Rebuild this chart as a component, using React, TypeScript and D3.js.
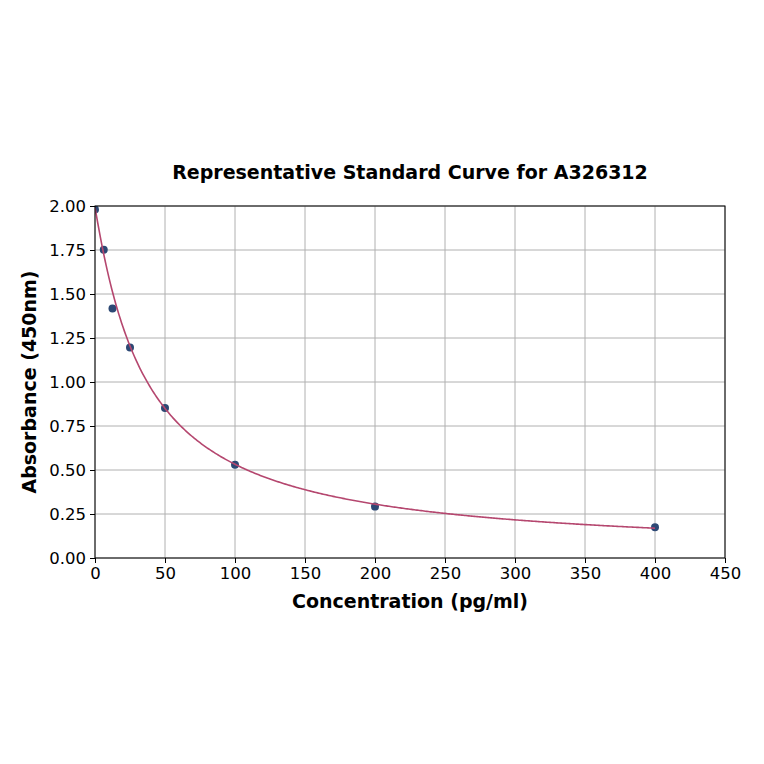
import * as d3 from "d3";
import { useRef, useEffect } from "react";

const width = 764;
const height = 764;
const marginTop = 206;
const marginRight = 39;
const marginBottom = 206;
const marginLeft = 95;

// standards (pg/ml) and measured absorbance
const concentrations = [0, 6.25, 12.5, 25, 50, 100, 200, 400];
const absorbances = [1.98, 1.752, 1.418, 1.196, 0.852, 0.53, 0.292, 0.175];

// 4PL fit: [top, slope, ec50, bottom]
const fitParams = [1.99, 1.05, 36.96, 0.02];

const xTicks = [0, 50, 100, 150, 200, 250, 300, 350, 400, 450];
const yTicks = [0, 0.25, 0.5, 0.75, 1.0, 1.25, 1.5, 1.75, 2.0];

const fontFamily = "'DejaVu Sans', sans-serif";

const fourPL = (x: number) => {
  const [a, b, c, d] = fitParams;
  return d + (a - d) / (1 + Math.pow(x / c, b));
};

const App = () => {
  const gx = useRef<SVGGElement>(null);
  const gy = useRef<SVGGElement>(null);

  const x = d3
    .scaleLinear()
    .domain([0, 450])
    .range([marginLeft, width - marginRight]);

  const y = d3
    .scaleLinear()
    .domain([0, 2])
    .range([height - marginBottom, marginTop]);

  useEffect(() => {
    if (gx.current) {
      const g = d3.select(gx.current);
      g.call(
        d3
          .axisBottom(x)
          .tickValues(xTicks)
          .tickFormat(d3.format("d"))
          .tickSizeOuter(0)
          .tickSize(5)
          .tickPadding(4)
      );
      g.select(".domain").remove();
      g.selectAll("text")
        .attr("font-size", 16.5)
        .attr("font-family", fontFamily)
        .attr("fill", "#000");
      g.selectAll(".tick line").attr("stroke", "#000");
    }
    if (gy.current) {
      const g = d3.select(gy.current);
      g.call(
        d3
          .axisLeft(y)
          .tickValues(yTicks)
          .tickFormat(d3.format(".2f"))
          .tickSizeOuter(0)
          .tickSize(5)
          .tickPadding(4)
      );
      g.select(".domain").remove();
      g.selectAll("text")
        .attr("font-size", 16.5)
        .attr("font-family", fontFamily)
        .attr("fill", "#000");
      g.selectAll(".tick line").attr("stroke", "#000");
    }
    return () => {
      if (gx.current) d3.select(gx.current).selectAll("*").remove();
      if (gy.current) d3.select(gy.current).selectAll("*").remove();
    };
  }, []);

  const curveX = d3.range(0, 400.5, 1);
  const lineBuilder = d3
    .line<number>()
    .x((d) => x(d))
    .y((d) => y(fourPL(d)));

  const plotW = width - marginLeft - marginRight;
  const plotH = height - marginTop - marginBottom;

  return (
    <svg
      width={width}
      height={height}
      viewBox={`0 0 ${width} ${height}`}
      style={{ position: "absolute", left: 0, top: 0, background: "#fff" }}
    >
      <defs>
        <clipPath id="plot-clip">
          <rect x={marginLeft} y={marginTop} width={plotW} height={plotH} />
        </clipPath>
      </defs>

      {xTicks.map((t) => (
        <line
          key={`gx${t}`}
          x1={x(t)}
          x2={x(t)}
          y1={marginTop}
          y2={height - marginBottom}
          stroke="#b0b0b0"
          strokeWidth={1}
        />
      ))}
      {yTicks.map((t) => (
        <line
          key={`gy${t}`}
          x1={marginLeft}
          x2={width - marginRight}
          y1={y(t)}
          y2={y(t)}
          stroke="#b0b0b0"
          strokeWidth={1}
        />
      ))}

      <g clipPath="url(#plot-clip)">
        {concentrations.map((c, i) => (
          <circle
            key={i}
            cx={x(c)}
            cy={y(absorbances[i])}
            r={4}
            fill="#2c4874"
          />
        ))}
        <path
          d={lineBuilder(curveX) as string}
          fill="none"
          stroke="#b5476f"
          strokeWidth={1.6}
        />
      </g>

      <rect
        x={marginLeft}
        y={marginTop}
        width={plotW}
        height={plotH}
        fill="none"
        stroke="#000"
        strokeWidth={1}
      />

      <g ref={gx} transform={`translate(0, ${height - marginBottom})`} />
      <g ref={gy} transform={`translate(${marginLeft}, 0)`} />

      <text
        x={x(225)}
        y={179}
        textAnchor="middle"
        fontFamily={fontFamily}
        fontWeight="bold"
        fontSize={19}
      >
        Representative Standard Curve for A326312
      </text>
      <text
        x={x(225)}
        y={608}
        textAnchor="middle"
        fontFamily={fontFamily}
        fontWeight="bold"
        fontSize={19}
      >
        Concentration (pg/ml)
      </text>
      <text
        transform={`translate(36, ${marginTop + plotH / 2}) rotate(-90)`}
        textAnchor="middle"
        fontFamily={fontFamily}
        fontWeight="bold"
        fontSize={19}
      >
        Absorbance (450nm)
      </text>
    </svg>
  );
};

export default App;
